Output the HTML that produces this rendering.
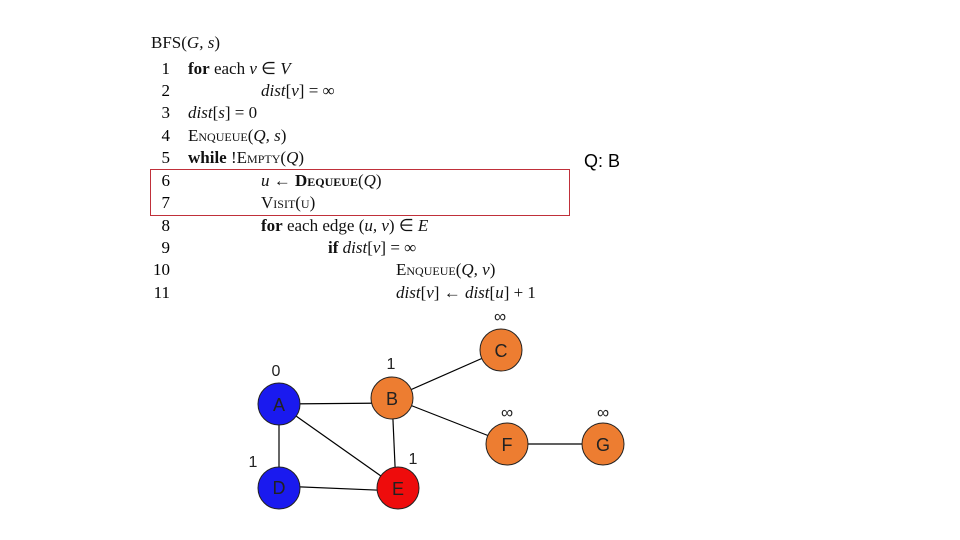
<!DOCTYPE html>
<html><head><meta charset="utf-8"><style>
body{margin:0;width:960px;height:540px;background:#fff;position:relative;overflow:hidden;font-family:"Liberation Serif",serif;}
.l{position:absolute;font-size:17px;color:#111;white-space:nowrap;line-height:20px}
.n{position:absolute;font-size:17px;width:20px;text-align:right;left:150px;line-height:20px}
i{font-style:italic}
.sc{font-variant:small-caps}
</style></head><body>
<div class="l" style="left:151px;top:33px">BFS(<i>G, s</i>)</div>
<div class="n" style="top:59px">1</div><div class="l" style="left:188px;top:59px"><b>for</b> each <i>v</i> ∈ <i>V</i></div>
<div class="n" style="top:81px">2</div><div class="l" style="left:261px;top:81px"><i>dist</i>[<i>v</i>] = ∞</div>
<div class="n" style="top:103px">3</div><div class="l" style="left:188px;top:103px"><i>dist</i>[<i>s</i>] = 0</div>
<div class="n" style="top:126px">4</div><div class="l" style="left:188px;top:126px"><span class="sc">Enqueue</span>(<i>Q, s</i>)</div>
<div class="n" style="top:148px">5</div><div class="l" style="left:188px;top:148px"><b>while</b> !<span class="sc">Empty</span>(<i>Q</i>)</div>
<div class="n" style="top:171px">6</div><div class="l" style="left:261px;top:171px"><i>u</i> ← <b class="sc">Dequeue</b>(<i>Q</i>)</div>
<div class="n" style="top:193px">7</div><div class="l" style="left:261px;top:193px"><span class="sc">Visit(u)</span></div>
<div class="n" style="top:216px">8</div><div class="l" style="left:261px;top:216px"><b>for</b> each edge (<i>u, v</i>) ∈ <i>E</i></div>
<div class="n" style="top:238px">9</div><div class="l" style="left:328px;top:238px"><b>if</b> <i>dist</i>[<i>v</i>] = ∞</div>
<div class="n" style="top:260px">10</div><div class="l" style="left:396px;top:260px"><span class="sc">Enqueue</span>(<i>Q, v</i>)</div>
<div class="n" style="top:283px">11</div><div class="l" style="left:396px;top:283px"><i>dist</i>[<i>v</i>] ← <i>dist</i>[<i>u</i>] + 1</div>
<div style="position:absolute;left:150px;top:169px;width:418px;height:45px;border:1px solid #c0303a"></div>
<div style="position:absolute;left:584px;top:151px;font:18px 'Liberation Sans',sans-serif">Q: B</div>
<svg width="960" height="540" style="position:absolute;left:0;top:0" font-family="Liberation Sans, sans-serif" font-size="18">
<g stroke="#000" stroke-width="1.2">
<line x1="279" y1="404" x2="392" y2="403"/><line x1="279" y1="404" x2="279" y2="486"/>
<line x1="279" y1="404" x2="398" y2="488"/><line x1="279" y1="486" x2="398" y2="491"/>
<line x1="392" y1="398" x2="396" y2="488"/><line x1="392" y1="398" x2="501" y2="350"/>
<line x1="392" y1="398" x2="507" y2="443"/><line x1="507" y1="444" x2="603" y2="444"/>
</g>
<g stroke="#222" stroke-width="1">
<circle cx="279" cy="404" r="21" fill="#1a1aef"/><circle cx="279" cy="488" r="21" fill="#1a1aef"/>
<circle cx="392" cy="398" r="21" fill="#ed7d31"/><circle cx="398" cy="488" r="21" fill="#ee0c0c"/>
<circle cx="501" cy="350" r="21" fill="#ed7d31"/><circle cx="507" cy="444" r="21" fill="#ed7d31"/>
<circle cx="603" cy="444" r="21" fill="#ed7d31"/>
</g>
<g text-anchor="middle" fill="#222">
<text x="279" y="411">A</text><text x="279" y="494">D</text><text x="392" y="405">B</text>
<text x="398" y="495">E</text><text x="501" y="357">C</text><text x="507" y="451">F</text><text x="603" y="451">G</text>
<text x="276" y="376" font-size="16">0</text><text x="391" y="369" font-size="16">1</text>
<text x="253" y="467" font-size="16">1</text><text x="413" y="464" font-size="16">1</text>
<text x="500" y="322" font-size="17">∞</text><text x="507" y="418" font-size="17">∞</text><text x="603" y="418" font-size="17">∞</text>
</g>
</svg>
</body></html>
